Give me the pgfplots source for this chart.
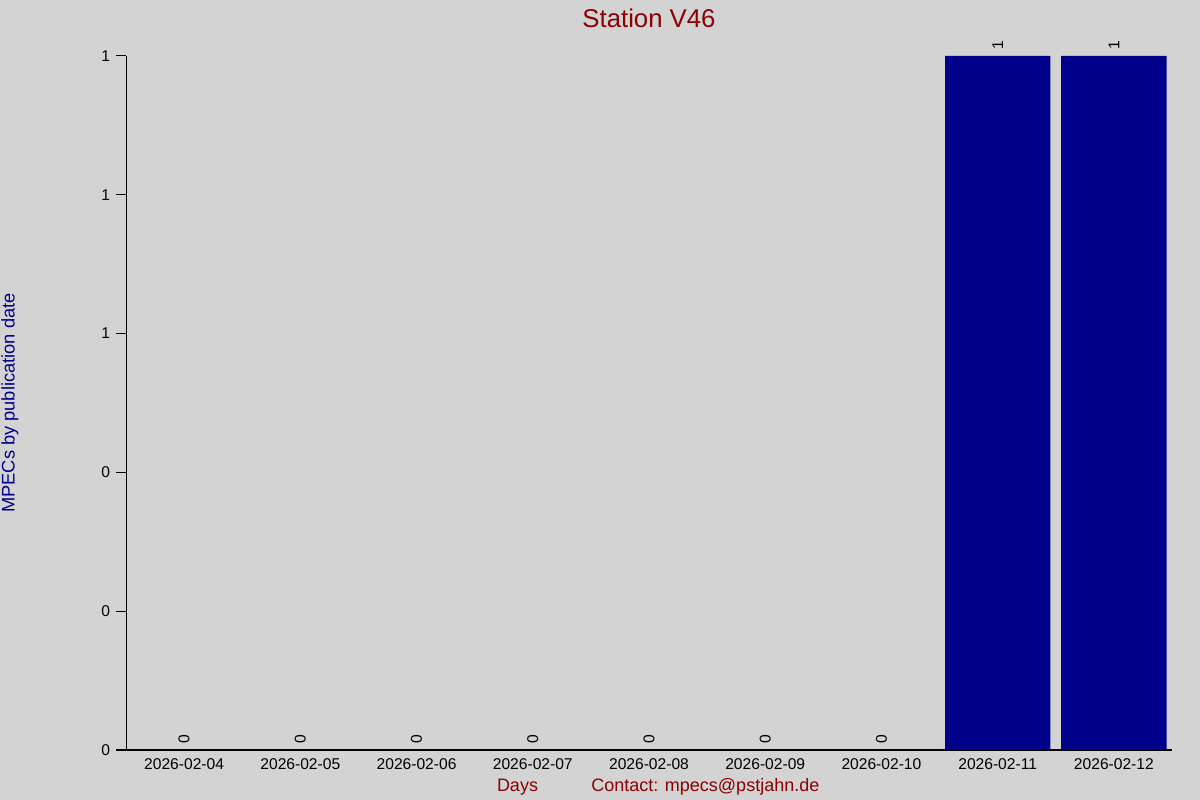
\documentclass[border=0pt]{standalone}
\usepackage{fontspec}
\setmainfont{Liberation Sans}
\usepackage{pgfplots}
\pgfplotsset{compat=1.18}
\definecolor{bg}{HTML}{D3D3D3}
\definecolor{barblue}{HTML}{00008B}
\definecolor{titlered}{HTML}{8B0000}
\begin{document}
\begin{tikzpicture}[x=0.75pt,y=0.75pt]
\path[use as bounding box] (0,0) rectangle (1200,800);
\fill[bg] (0,0) rectangle (1200,800);
\begin{axis}[
  at={(94.5pt,37.5pt)}, anchor=south west,
  scale only axis, width=784.5pt, height=520.5pt,
  xmin=-0.5, xmax=8.5, ymin=0, ymax=1,
  axis x line*=bottom, axis y line*=left,
  axis line style={-, black, line width=0.75pt},
  xtick=data,
  xticklabels={2026-02-04,2026-02-05,2026-02-06,2026-02-07,2026-02-08,2026-02-09,2026-02-10,2026-02-11,2026-02-12},
  x tick style={draw=none},
  xticklabel style={font=\fontsize{11.7}{12}\selectfont, yshift=4.5pt},
  ytick={0,0.2,0.4,0.6,0.8,1},
  yticklabels={0,0,0,1,1,1},
  y tick style={black, line width=0.75pt},
  tick align=outside, major tick length=7.5pt,
  yticklabel style={font=\fontsize{11.7}{12}\selectfont, xshift=-1pt},
  /pgf/number format/assume math mode=true,
  clip=false,
  ybar, bar width=79pt,
  nodes near coords,
  every node near coord/.append style={rotate=90, anchor=west, inner xsep=5pt, inner ysep=0pt, font=\fontsize{11.7}{12}\selectfont, black},
]
\addplot[fill=barblue, draw=none] coordinates {
(0,0) (1,0) (2,0) (3,0) (4,0) (5,0) (6,0) (7,1) (8,1)
};
\end{axis}
\node[text=titlered, font=\fontsize{19.3}{22}\selectfont] at (649,782) {Station V46};
\node[text=barblue, font=\fontsize{13.7}{16}\selectfont, rotate=90, inner sep=0pt] at (10,397) {MPECs by publication date};
\node[text=titlered, font=\fontsize{13.5}{16}\selectfont] at (517.5,13) {Days};
\node[text=titlered, font=\fontsize{13.5}{16}\selectfont, anchor=west, inner sep=0pt] at (591,13) {Contact: mpecs@pstjahn.de};
\end{tikzpicture}
\end{document}
